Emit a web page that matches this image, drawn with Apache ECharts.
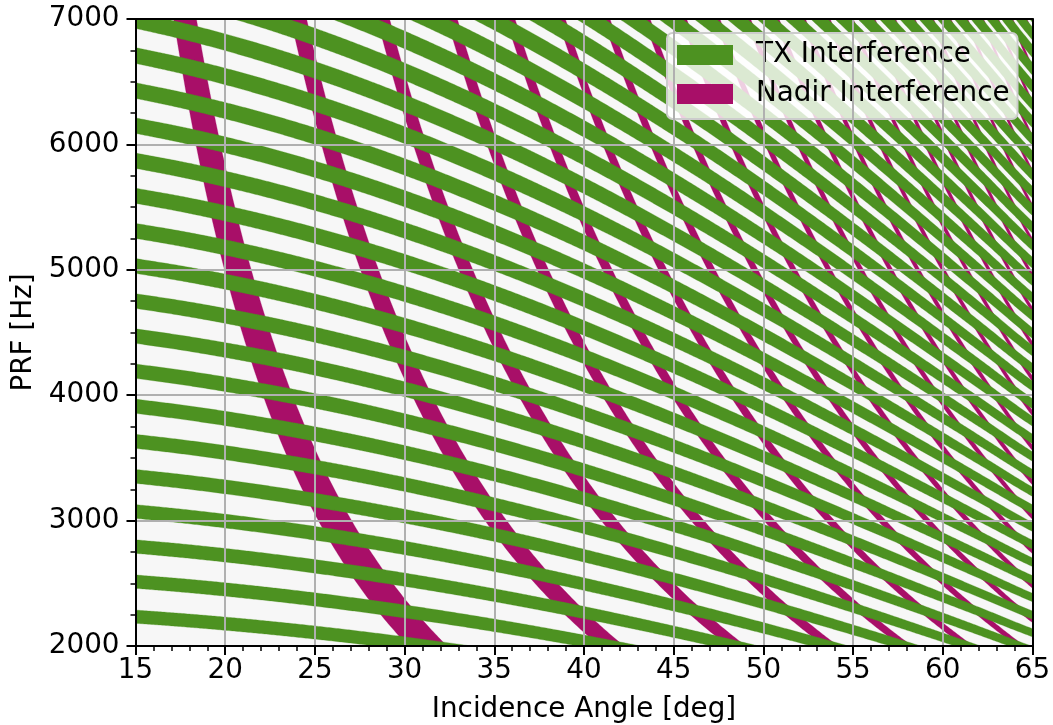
<!DOCTYPE html>
<html><head><meta charset="utf-8">
<script src="https://cdn.jsdelivr.net/npm/echarts@6/dist/echarts.min.js"></script>
<style>html,body{margin:0;padding:0;background:#fff}#c{width:1053px;height:725px}</style>
</head><body><div id="c"></div>
<script>
// incidence angles where the echo timing was read (deg)
const angleDeg = [15,17.5,20,22.5,25,27.5,30,32.5,35,37.5,40,42.5,45,47.5,50,52.5,55,57.5,60,62.5,65];
// round-trip echo delay at each angle (ms)
const echoDelayMs = [3.5749,3.6169,3.6664,3.7237,3.7895,3.8643,3.9490,4.0444,4.1515,4.2715,4.4059,4.5563,4.7246,4.9133,5.1252,5.3634,5.6319,5.9353,6.2792,6.6704,7.1167];
// half spread of the echo window (ms)
const echoSpreadMs = [0.0082,0.0095,0.0108,0.0121,0.0134,0.0146,0.0159,0.0170,0.0182,0.0193,0.0204,0.0214,0.0224,0.0234,0.0243,0.0251,0.0260,0.0267,0.0275,0.0281,0.0287];
// nadir return delay (ms)
const nadirDelayMs = 3.4716;
// band orders visible in the plot
const txOrders = [7,8,9,10,11,12,13,14,15,16,17,18,19,20,21,22,23,24,25,26,27,28,29,30,31,32,33,34,35,36,37,38,39,40,41,42,43,44,45,46,47,48,49,50];
const nadirOrders = [1,2,3,4,5,6,7,8,9,10,11,12,13,14,15,16,17,18,19,20,21,22,23,24,25,26];
// band extents in fractions of the pulse period
const txLead = 0.185, txLag = 0.155;
const nadirLead = 0.03, nadirLag = 0.135;
const seriesNames = ['TX Interference','Nadir Interference'];
const xRange = [15,65], yRange = [2000,7000];

const GREEN = '#4d9221', MAGENTA = '#a80f68';
const FONT = 'DejaVu Sans', FS = 27.8;

function cr(arr, th){
  const s = (th - angleDeg[0]) / (angleDeg[1]-angleDeg[0]);
  let i = Math.floor(s); if (i < 0) i = 0; if (i > arr.length-2) i = arr.length-2;
  const t = s - i;
  const p1 = arr[i], p2 = arr[i+1];
  const p0 = i > 0 ? arr[i-1] : 2*p1 - p2;
  const p3 = i+2 < arr.length ? arr[i+2] : 2*p2 - p1;
  return 0.5*((2*p1) + (-p0+p2)*t + (2*p0-5*p1+4*p2-p3)*t*t + (-p0+3*p1-3*p2+p3)*t*t*t);
}
function wrap(params, pts, color){
  const cs = params.coordSys;
  return {type:'group', clipPath:{type:'rect', shape:{x:cs.x, y:cs.y, width:cs.width, height:cs.height}},
    children:[{type:'polygon', shape:{points:pts}, style:{fill:color, stroke:color, lineWidth:0.3}}]};
}
function txItem(params, api){
  const k = api.value(0); const lo = [], hi = [];
  for (let i = 0; i <= 500; i++){
    const th = 15 + i*0.1;
    const T = cr(echoDelayMs, th), a = cr(echoSpreadMs, th);
    lo.push(api.coord([th, 1000*(k - txLead)/(T + a)]));
    hi.push(api.coord([th, 1000*(k + txLag)/(T - a)]));
  }
  return wrap(params, lo.concat(hi.reverse()), GREEN);
}
function nadirItem(params, api){
  const k = api.value(0); const lo = [], hi = [];
  for (let i = 0; i <= 500; i++){
    const th = 15 + i*0.1;
    const D = cr(echoDelayMs, th) - nadirDelayMs;
    lo.push(api.coord([th, Math.min(60000, 1000*(k - nadirLead)/D)]));
    hi.push(api.coord([th, Math.min(60000, 1000*(k + nadirLag)/D)]));
  }
  return wrap(params, lo.concat(hi.reverse()), MAGENTA);
}

const lab = {fontSize:FS, color:'#000', fontFamily:FONT};
const chart = echarts.init(document.getElementById('c'), null, {renderer:'canvas'});
chart.setOption({
  animation:false,
  backgroundColor:'#fff',
  grid:{left:135.5, top:19, right:20.5, bottom:79, containLabel:false, outerBoundsMode:'none',
        show:true, backgroundColor:'#f7f7f7', borderWidth:0},
  legend:{
    data:[{name:seriesNames[0], itemStyle:{color:GREEN}},{name:seriesNames[1], itemStyle:{color:MAGENTA}}],
    orient:'vertical', left:667, top:33, icon:'rect', itemWidth:56, itemHeight:20, itemGap:11,
    padding:[8,8,11,10], backgroundColor:'rgba(255,255,255,0.8)', borderColor:'#cccccc', borderWidth:2, borderRadius:5.5,
    textStyle:{fontSize:FS, color:'#000', fontFamily:FONT, lineHeight:28, padding:[0,0,0,18]},
    selectedMode:false
  },
  xAxis:[{
    type:'value', min:xRange[0], max:xRange[1], interval:5, position:'bottom', z:10,
    name:'Incidence Angle [deg]', nameLocation:'middle', nameGap:50, nameTextStyle:lab,
    axisLine:{onZero:false, lineStyle:{color:'#000', width:2}},
    axisTick:{length:9, lineStyle:{color:'#000', width:2}},
    minorTick:{show:true, splitNumber:5, length:5, lineStyle:{color:'#000', width:1.5}},
    splitLine:{show:true, lineStyle:{color:'#b0b0b0', width:2}},
    axisLabel:Object.assign({margin:11, formatter:v=>String(v)}, lab)
  },{
    type:'value', min:xRange[0], max:xRange[1], position:'top', z:10,
    axisLine:{show:true, onZero:false, lineStyle:{color:'#000', width:2}},
    axisTick:{show:false}, axisLabel:{show:false}, splitLine:{show:false}
  }],
  yAxis:[{
    type:'value', min:yRange[0], max:yRange[1], interval:1000, position:'left', z:10,
    name:'PRF [Hz]', nameLocation:'middle', nameGap:82, nameTextStyle:lab,
    axisLine:{show:true, onZero:false, lineStyle:{color:'#000', width:2}},
    axisTick:{show:true, length:9, lineStyle:{color:'#000', width:2}},
    minorTick:{show:true, splitNumber:4, length:5, lineStyle:{color:'#000', width:1.5}},
    splitLine:{show:true, lineStyle:{color:'#b0b0b0', width:2}},
    axisLabel:Object.assign({margin:16, formatter:v=>String(v)}, lab)
  },{
    type:'value', min:yRange[0], max:yRange[1], position:'right', z:10,
    axisLine:{show:true, onZero:false, lineStyle:{color:'#000', width:2}},
    axisTick:{show:false}, axisLabel:{show:false}, splitLine:{show:false}
  }],
  series:[
    {name:seriesNames[1], type:'custom', xAxisIndex:0, yAxisIndex:0, renderItem:nadirItem,
     itemStyle:{color:MAGENTA}, data:nadirOrders.map(k=>[k]), encode:{x:-1, y:-1}, silent:true},
    {name:seriesNames[0], type:'custom', xAxisIndex:0, yAxisIndex:0, renderItem:txItem,
     itemStyle:{color:GREEN}, data:txOrders.map(k=>[k]), encode:{x:-1, y:-1}, silent:true}
  ]
});
</script></body></html>
